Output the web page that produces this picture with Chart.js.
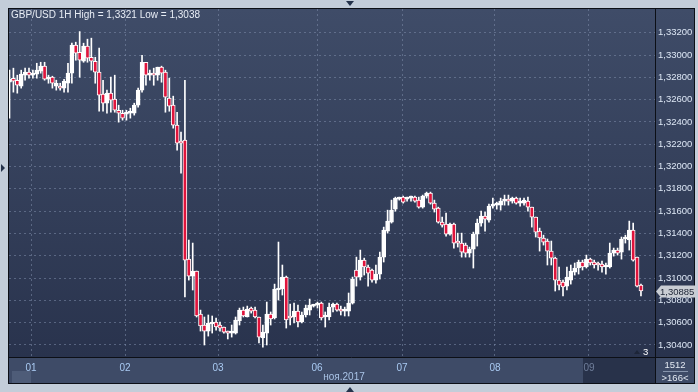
<!DOCTYPE html>
<html><head><meta charset="utf-8">
<script src="https://cdn.jsdelivr.net/npm/chart.js@4.4.0/dist/chart.umd.min.js"></script>
<style>html,body{margin:0;padding:0;background:#c3cdd9;overflow:hidden}#wrap{width:698px;height:392px;position:relative}</style>
</head><body><div id="wrap"><canvas id="c" width="698" height="392"></canvas></div>
<script>
const titleText = 'GBP/USD 1H High = 1,3321 Low = 1,3038';
const monthLabel = 'ноя.2017';
const lastPrice = 1.30885;
const dayLabels = ['01','02','03','06','07','08','09'];
const dayTickPos = [5.52, 29.63, 53.49, 78.89, 100.7, 124.55, 148.66];
const yTicks = [1.304,1.306,1.308,1.310,1.312,1.314,1.316,1.318,1.320,1.322,1.324,1.326,1.328,1.330,1.332];

const opens = [1.32756,1.32792,1.32774,1.32720,1.32819,1.32846,1.32819,1.32828,1.32855,1.32900,
1.32783,1.32801,1.32720,1.32720,1.32703,1.32747,1.32837,1.33088,1.33025,1.32944,
1.33079,1.32980,1.32944,1.32846,1.32649,1.32568,1.32658,1.32604,1.32505,1.32478,
1.32470,1.32478,1.32478,1.32550,1.32685,1.32935,1.32819,1.32837,1.32819,1.32891,
1.32846,1.32613,1.32550,1.32371,1.32219,1.32237,1.31170,1.31018,1.31063,1.30678,
1.30579,1.30525,1.30588,1.30606,1.30579,1.30561,1.30516,1.30507,1.30507,1.30615,
1.30713,1.30651,1.30731,1.30713,1.30651,1.30463,1.30507,1.30678,1.30642,1.30893,
1.30902,1.31009,1.30651,1.30651,1.30704,1.30606,1.30669,1.30713,1.30749,1.30758,
1.30776,1.30651,1.30651,1.30740,1.30767,1.30713,1.30704,1.30704,1.30776,1.31072,
1.31009,1.31161,1.31099,1.31072,1.30982,1.31036,1.31188,1.31421,1.31502,1.31618,
1.31708,1.31726,1.31708,1.31717,1.31726,1.31699,1.31636,1.31735,1.31762,1.31672,
1.31627,1.31502,1.31484,1.31394,1.31484,1.31323,1.31314,1.31296,1.31224,1.31260,
1.31394,1.31493,1.31556,1.31520,1.31645,1.31654,1.31654,1.31690,1.31699,1.31690,
1.31717,1.31672,1.31672,1.31690,1.31636,1.31547,1.31421,1.31359,1.31332,1.31242,
1.31179,1.30982,1.30964,1.30928,1.30982,1.31054,1.31090,1.31144,1.31099,1.31170,
1.31144,1.31126,1.31126,1.31099,1.31099,1.31224,1.31251,1.31233,1.31350,1.31341,
1.31430,1.31188,1.30937];

const highs = [1.32864,1.32882,1.32819,1.32864,1.32882,1.32882,1.32864,1.32926,1.32935,1.32935,
1.32819,1.32810,1.32774,1.32747,1.32783,1.32926,1.33106,1.33115,1.33210,1.33106,
1.33142,1.33151,1.32980,1.33061,1.32774,1.32685,1.32801,1.32819,1.32550,1.32505,
1.32505,1.32523,1.32568,1.32703,1.32998,1.32935,1.32864,1.32882,1.32891,1.32900,
1.32864,1.32792,1.32631,1.32487,1.32308,1.32774,1.31341,1.31314,1.31063,1.30713,
1.30651,1.30669,1.30660,1.30642,1.30606,1.30561,1.30525,1.30579,1.30651,1.30731,
1.30740,1.30749,1.30740,1.30740,1.30651,1.30579,1.30785,1.30696,1.30946,1.31323,
1.31117,1.31018,1.30767,1.30776,1.30758,1.30696,1.30758,1.30812,1.30765,1.30785,
1.30785,1.30696,1.30776,1.30776,1.30776,1.30749,1.30740,1.30866,1.31009,1.31188,
1.31251,1.31179,1.31117,1.31081,1.31117,1.31233,1.31457,1.31609,1.31699,1.31726,
1.31726,1.31735,1.31726,1.31735,1.31735,1.31726,1.31744,1.31771,1.31771,1.31699,
1.31636,1.31547,1.31583,1.31493,1.31493,1.31403,1.31403,1.31314,1.31278,1.31412,
1.31529,1.31600,1.31592,1.31663,1.31717,1.31681,1.31717,1.31744,1.31744,1.31726,
1.31726,1.31717,1.31717,1.31726,1.31636,1.31547,1.31448,1.31385,1.31350,1.31332,
1.31188,1.31099,1.30982,1.31099,1.31117,1.31135,1.31161,1.31161,1.31206,1.31179,
1.31161,1.31144,1.31152,1.31135,1.31314,1.31269,1.31269,1.31368,1.31385,1.31511,
1.31493,1.31188,1.30946];

const lows = [1.32434,1.32667,1.32658,1.32703,1.32774,1.32792,1.32792,1.32792,1.32837,1.32774,
1.32747,1.32703,1.32685,1.32685,1.32667,1.32667,1.32747,1.32953,1.32801,1.32935,
1.32935,1.32864,1.32747,1.32496,1.32496,1.32478,1.32487,1.32487,1.32398,1.32416,
1.32416,1.32434,1.32461,1.32532,1.32667,1.32729,1.32774,1.32729,1.32774,1.32756,
1.32487,1.32496,1.32344,1.32147,1.31941,1.30830,1.30982,1.30893,1.30651,1.30525,
1.30400,1.30480,1.30507,1.30534,1.30525,1.30507,1.30454,1.30471,1.30498,1.30579,
1.30651,1.30651,1.30686,1.30642,1.30418,1.30380,1.30400,1.30579,1.30633,1.30803,
1.30848,1.30552,1.30579,1.30597,1.30561,1.30597,1.30651,1.30669,1.30740,1.30731,
1.30624,1.30561,1.30624,1.30696,1.30704,1.30669,1.30660,1.30660,1.30767,1.30928,
1.30982,1.31027,1.30928,1.30964,1.30955,1.30991,1.31144,1.31403,1.31493,1.31600,
1.31699,1.31672,1.31690,1.31690,1.31681,1.31627,1.31627,1.31717,1.31663,1.31592,
1.31493,1.31457,1.31376,1.31385,1.31269,1.31278,1.31188,1.31188,1.31188,1.31090,
1.31287,1.31466,1.31421,1.31502,1.31627,1.31618,1.31609,1.31654,1.31654,1.31672,
1.31663,1.31645,1.31654,1.31600,1.31457,1.31368,1.31242,1.31296,1.31117,1.31117,
1.30884,1.30893,1.30839,1.30893,1.30946,1.31027,1.31036,1.31072,1.31090,1.31117,
1.31090,1.31072,1.31054,1.31036,1.31090,1.31197,1.31206,1.31170,1.31314,1.31251,
1.31152,1.30920,1.30839];

const closes = [1.32783,1.32765,1.32729,1.32828,1.32846,1.32819,1.32837,1.32864,1.32900,1.32783,
1.32801,1.32747,1.32747,1.32703,1.32765,1.32837,1.33088,1.33016,1.32953,1.33079,
1.32971,1.32944,1.32846,1.32640,1.32568,1.32658,1.32595,1.32505,1.32478,1.32434,
1.32478,1.32487,1.32550,1.32685,1.32935,1.32819,1.32837,1.32819,1.32891,1.32837,
1.32622,1.32541,1.32371,1.32210,1.32210,1.31161,1.31018,1.31063,1.30660,1.30570,
1.30525,1.30597,1.30606,1.30561,1.30552,1.30516,1.30507,1.30516,1.30624,1.30713,
1.30660,1.30722,1.30704,1.30651,1.30471,1.30516,1.30678,1.30633,1.30902,1.30911,
1.31009,1.30624,1.30642,1.30704,1.30606,1.30669,1.30731,1.30758,1.30758,1.30776,
1.30642,1.30651,1.30740,1.30767,1.30713,1.30704,1.30713,1.30776,1.30991,1.31009,
1.31161,1.31099,1.31045,1.30982,1.31036,1.31188,1.31430,1.31511,1.31609,1.31717,
1.31717,1.31681,1.31717,1.31726,1.31690,1.31636,1.31735,1.31762,1.31672,1.31618,
1.31502,1.31475,1.31394,1.31484,1.31314,1.31314,1.31233,1.31224,1.31260,1.31394,
1.31493,1.31556,1.31529,1.31645,1.31663,1.31663,1.31690,1.31699,1.31690,1.31717,
1.31672,1.31681,1.31699,1.31636,1.31547,1.31412,1.31359,1.31323,1.31242,1.31179,
1.30982,1.30937,1.30920,1.31009,1.31063,1.31090,1.31144,1.31099,1.31170,1.31135,
1.31117,1.31117,1.31099,1.31117,1.31224,1.31251,1.31224,1.31350,1.31359,1.31430,
1.31161,1.30928,1.30885];

const FONT = 'Liberation Sans, Arial, sans-serif';
const wickData = opens.map((o, i) => ({x: i, y: [lows[i], highs[i]]}));
const bodyData = opens.map((o, i) => ({x: i, y: [o, closes[i]]}));
const bodyColors = opens.map((o, i) => closes[i] >= o ? '#ffffff' : '#e0143c');

function tri(ctx, pts, color) {
  ctx.beginPath(); ctx.moveTo(pts[0], pts[1]); ctx.lineTo(pts[2], pts[3]); ctx.lineTo(pts[4], pts[5]); ctx.closePath();
  ctx.fillStyle = color; ctx.fill();
}

const bgPlugin = {
  id: 'bg',
  beforeDraw(chart) {
    const ctx = chart.ctx;
    ctx.save();
    ctx.fillStyle = '#c3cdd9'; ctx.fillRect(0, 0, 698, 392);
    const g = ctx.createLinearGradient(0, 9, 0, 357);
    g.addColorStop(0, '#3f4c68'); g.addColorStop(1, '#29334d');
    ctx.fillStyle = g; ctx.fillRect(8, 8, 687, 349);
    ctx.fillStyle = '#3e4b67'; ctx.fillRect(8, 357, 687, 27);
    ctx.fillStyle = '#28324a'; ctx.fillRect(583, 358, 72, 26);
    ctx.fillStyle = '#4e5c78'; ctx.fillRect(12, 371, 19, 12);
    ctx.restore();
  },
  afterDraw(chart) {
    const ctx = chart.ctx;
    const y = chart.scales.y;
    ctx.save();
    ctx.strokeStyle = '#0c0f16'; ctx.lineWidth = 1;
    ctx.beginPath();
    ctx.moveTo(8, 357.5); ctx.lineTo(695, 357.5);
    ctx.moveTo(655.5, 8); ctx.lineTo(655.5, 384);
    ctx.stroke();
    ctx.strokeRect(8.5, 8.5, 686, 375);
    // title
    ctx.fillStyle = '#e8edf5'; ctx.font = '10px ' + FONT; ctx.textBaseline = 'middle'; ctx.textAlign = 'left';
    ctx.fillText(titleText, 11, 15);
    // month label
    ctx.fillStyle = '#a9c3e6'; ctx.textAlign = 'center';
    ctx.fillText(monthLabel, 344, 377);
    // last price box
    const py = Math.round(y.getPixelForValue(lastPrice));
    ctx.fillStyle = '#c9cdd3';
    ctx.beginPath();
    ctx.moveTo(656, py + 0.5); ctx.lineTo(661, py - 5.5); ctx.lineTo(696, py - 5.5); ctx.lineTo(696, py + 6.5); ctx.lineTo(661, py + 6.5); ctx.closePath(); ctx.fill();
    ctx.fillStyle = '#1a2233'; ctx.textAlign = 'left';
    ctx.font = '9.5px ' + FONT;
    ctx.fillText(lastPrice.toFixed(5).replace('.', ','), 660, py + 1);
    // bars counter box
    ctx.fillStyle = '#e3e9f2'; ctx.textAlign = 'center';
    ctx.fillText('1512', 675, 365);
    ctx.fillText('>166<', 675, 378);
    ctx.strokeStyle = '#8795ad'; ctx.beginPath(); ctx.moveTo(663, 371.5); ctx.lineTo(688, 371.5); ctx.stroke();
    // "3" marker
    ctx.fillStyle = '#ffffff'; ctx.textAlign = 'left';
    ctx.fillText('3', 643, 352);
    tri(ctx, [634, 354, 640, 354, 637, 350], '#1d2538');
    // frame arrows
    tri(ctx, [346, 1, 354, 1, 350, 6], '#24324a');
    tri(ctx, [346, 392, 354, 392, 350, 387], '#24324a');
    tri(ctx, [1, 164, 1, 172, 5, 168], '#24324a');
    ctx.restore();
  }
};

const gridColor = 'rgba(125,140,170,0.55)';
new Chart(document.getElementById('c'), {
  type: 'bar',
  data: {
    datasets: [
      {label: 'body', data: bodyData, order: 0, grouped: false, barThickness: 4, minBarLength: 2,
       backgroundColor: bodyColors, borderColor: '#ffffff', borderWidth: 1, borderSkipped: false},
      {label: 'wick', data: wickData, order: 1, grouped: false, barThickness: 1,
       backgroundColor: '#ffffff', borderWidth: 0}
    ]
  },
  options: {
    responsive: false, animation: false, events: [],
    layout: {padding: {left: 9, top: 9, right: 0, bottom: 0}},
    plugins: {legend: {display: false}, tooltip: {enabled: false}, title: {display: false}},
    scales: {
      x: {
        type: 'linear', min: -0.13, max: 165.6, offset: false,
        afterBuildTicks: s => { s.ticks = dayTickPos.map(v => ({value: v})); },
        afterFit: s => { s.height = 35; },
        grid: {offset: false, color: gridColor, drawTicks: false, lineWidth: 1},
        border: {display: false, dash: [2, 3]},
        ticks: {autoSkip: false, maxRotation: 0, padding: 5,
          color: c => c.index === 6 ? '#6f7e9a' : '#a9caf2',
          font: {family: FONT, size: 10},
          callback: (v, i) => dayLabels[i]}
      },
      y: {
        position: 'right', min: 1.302924, max: 1.334125, beginAtZero: false,
        afterBuildTicks: s => { s.ticks = yTicks.map(v => ({value: v})); },
        afterFit: s => { s.width = 43; },
        grid: {color: gridColor, drawTicks: false, lineWidth: 1},
        border: {display: false, dash: [2, 3]},
        ticks: {padding: 3, color: '#dde7f5', font: {family: FONT, size: 9.5},
          callback: v => v.toFixed(5).replace('.', ',')}
      }
    }
  },
  plugins: [bgPlugin]
});
</script>
</body></html>
